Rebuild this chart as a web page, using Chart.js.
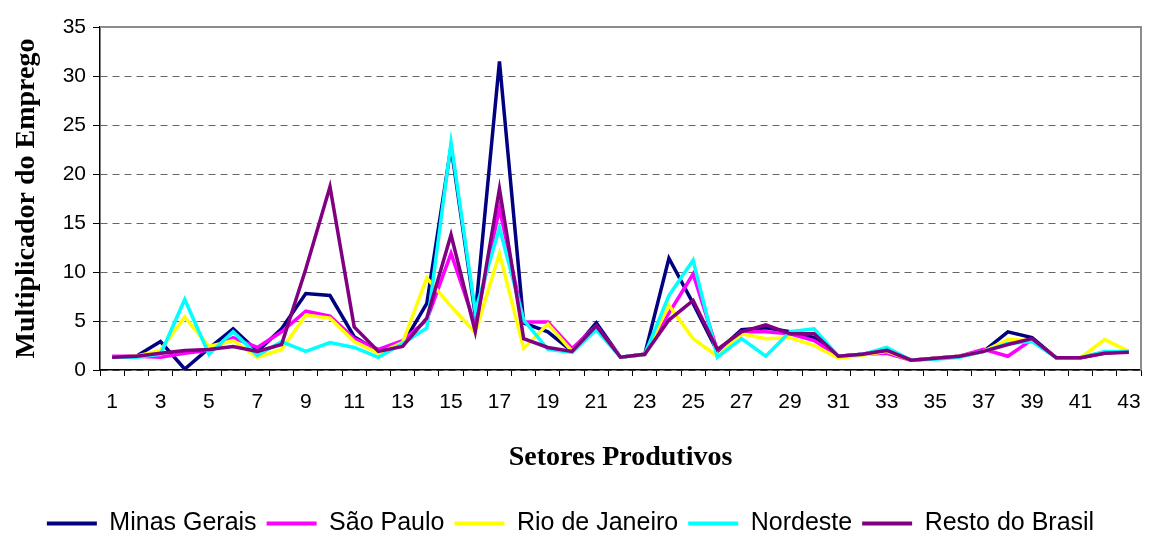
<!DOCTYPE html>
<html>
<head>
<meta charset="utf-8">
<script src="https://cdn.jsdelivr.net/npm/chart.js@4/dist/chart.umd.min.js"></script>
<style>
  html, body { margin: 0; padding: 0; background: #ffffff; }
  #wrap { width: 1149px; height: 534px; }
</style>
</head>
<body>
<div id="wrap"><canvas id="c" width="1149" height="534"></canvas></div>
<script>
const setores = ['1','2','3','4','5','6','7','8','9','10','11','12','13','14','15','16','17','18','19','20','21','22','23','24','25','26','27','28','29','30','31','32','33','34','35','36','37','38','39','40','41','42','43'];

const minasGerais = [1.3,1.4,2.9,0.1,2.2,4.2,1.9,4.2,7.8,7.6,3.4,1.9,2.6,6.8,22.8,5.6,31.5,4.8,3.9,1.9,4.8,1.3,1.6,11.4,6.8,1.9,4.1,4.3,3.9,3.3,1.4,1.6,2.1,1.0,1.2,1.4,1.9,3.9,3.3,1.25,1.25,1.8,1.9];
const saoPaulo = [1.4,1.4,1.3,1.7,2.0,3.3,2.3,3.9,6.0,5.5,3.2,2.1,3.0,5.1,11.9,4.6,16.5,4.9,4.9,2.2,4.5,1.3,1.6,5.8,9.8,2.0,3.9,3.9,3.7,3.0,1.4,1.6,1.7,1.0,1.2,1.4,2.1,1.4,3.1,1.25,1.25,1.7,1.9];
const rioDeJaneiro = [1.3,1.4,2.0,5.4,2.4,3.0,1.3,2.1,5.6,5.3,2.9,1.7,2.8,9.4,6.5,3.8,11.9,2.2,4.7,1.9,4.4,1.3,1.6,6.6,3.2,1.4,3.7,3.2,3.3,2.5,1.2,1.5,1.9,1.0,1.2,1.4,1.9,3.1,3.0,1.25,1.25,3.1,1.9];
const nordeste = [1.3,1.3,1.6,7.2,1.6,3.9,1.5,2.9,1.9,2.8,2.3,1.3,2.7,4.3,23.2,6.0,14.5,5.1,2.1,1.8,4.1,1.3,1.6,7.6,11.2,1.3,3.2,1.4,3.9,4.2,1.4,1.6,2.3,1.0,1.1,1.3,1.9,2.7,2.9,1.25,1.25,1.9,1.9];
const restoDoBrasil = [1.3,1.4,1.7,2.0,2.1,2.4,1.9,2.6,10.3,18.7,4.4,1.9,2.4,5.3,13.8,3.9,18.5,3.2,2.3,1.9,4.5,1.3,1.6,5.1,7.1,2.1,3.9,4.6,3.7,3.7,1.4,1.6,2.0,1.0,1.2,1.4,1.9,2.6,3.2,1.25,1.25,1.7,1.8];

const seriesNames = ['Minas Gerais','São Paulo','Rio de Janeiro','Nordeste','Resto do Brasil'];
const seriesColors = ['#000080','#FF00FF','#FFFF00','#00FFFF','#800080'];
const seriesData = [minasGerais, saoPaulo, rioDeJaneiro, nordeste, restoDoBrasil];
const yTicks = [0,5,10,15,20,25,30,35];

const PAD_BOTTOM = -12;

const datasets = seriesData.map((d, i) => ({
  label: seriesNames[i],
  data: d,
  borderColor: seriesColors[i],
  backgroundColor: seriesColors[i],
  borderWidth: 3.5,
  pointRadius: 0,
  pointHoverRadius: 0,
  tension: 0,
  fill: false,
  order: seriesData.length - 1 - i
}));

const frame = {
  id: 'frame',
  afterDatasetsDraw(chart) {
    const a = chart.chartArea, ctx = chart.ctx;
    ctx.save();
    ctx.strokeStyle = '#8c8c8c';
    ctx.lineWidth = 2;
    ctx.beginPath();
    ctx.moveTo(a.left, a.top);
    ctx.lineTo(a.right, a.top);
    ctx.lineTo(a.right, a.bottom);
    ctx.stroke();
    ctx.restore();
  }
};

new Chart(document.getElementById('c'), {
  type: 'line',
  data: { labels: setores, datasets },
  plugins: [frame],
  options: {
    responsive: false,
    animation: false,
    events: [],
    layout: { padding: { top: 27, right: 8, left: 0, bottom: PAD_BOTTOM } },
    plugins: {
      tooltip: { enabled: false },
      legend: {
        position: 'bottom',
        labels: {
          font: { family: 'Liberation Sans', size: 25 },
          color: '#000',
          boxWidth: 50,
          boxHeight: 4,
          padding: 10,
          sort: (a, b) => a.datasetIndex - b.datasetIndex,
          generateLabels: (chart) => chart.data.datasets.map((ds, i) => ({
            text: ds.label, fillStyle: ds.borderColor, strokeStyle: ds.borderColor,
            lineWidth: 0, datasetIndex: i, hidden: false, fontColor: '#000'
          }))
        }
      }
    },
    scales: {
      x: {
        offset: true,
        grid: { offset: true, drawOnChartArea: false, tickLength: 6, tickColor: '#000', color: '#000' },
        border: { color: '#000', width: 1.5 },
        ticks: {
          autoSkip: false, maxRotation: 0, minRotation: 0, padding: 14,
          color: '#000', font: { family: 'Liberation Sans', size: 21 },
          callback: function(v, i) { return (i % 2 === 0) ? setores[i] : ''; }
        },
        title: {
          display: true, text: 'Setores Produtivos', color: '#000',
          font: { family: 'Liberation Serif', size: 28, weight: 'bold' },
          padding: { top: 0, bottom: 26 }
        },
        afterFit: function(scale) {
          const lg = scale.chart.legend ? scale.chart.legend.height : 50;
          scale.height = 534 - PAD_BOTTOM - 370 - lg;
          scale.paddingLeft = 0;
          scale.paddingRight = 0;
        }
      },
      y: {
        min: 0, max: 35,
        afterBuildTicks: function(scale) { scale.ticks = yTicks.map(v => ({ value: v })); },
        grid: { color: '#666', lineWidth: 1, tickLength: 7, tickColor: '#000' },
        border: { color: '#000', width: 1.5, dash: [7, 5] },
        ticks: { padding: 7, color: '#000', font: { family: 'Liberation Sans', size: 21 } },
        title: {
          display: true, text: 'Multiplicador do Emprego', color: '#000',
          font: { family: 'Liberation Serif', size: 28, weight: 'bold' },
          padding: { top: 10, bottom: 0 }
        },
        afterFit: function(scale) { scale.width = 100; }
      }
    }
  }
});
</script>
</body>
</html>
